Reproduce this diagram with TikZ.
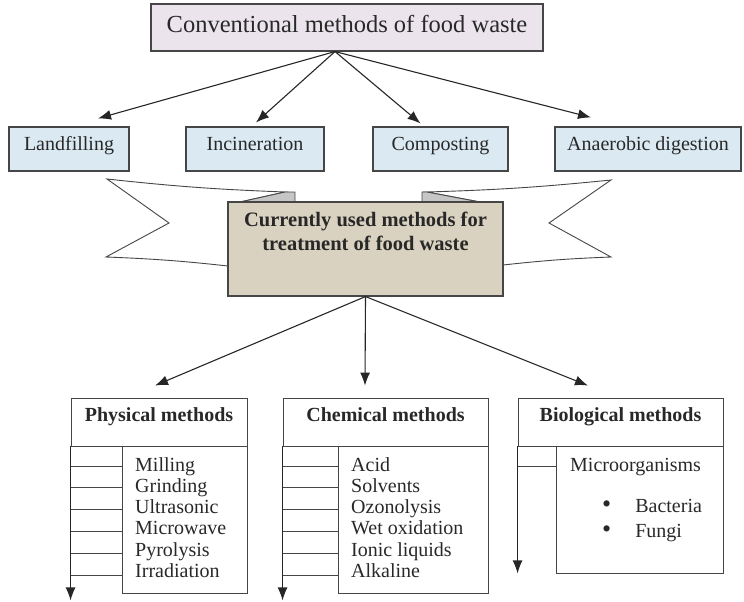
\documentclass[tikz,border=0pt]{standalone}
\usepackage{fontspec}
\setmainfont{Liberation Serif}
\usetikzlibrary{arrows.meta}
\definecolor{titlefill}{RGB}{235,228,237}
\definecolor{convfill}{RGB}{218,233,242}
\definecolor{currfill}{RGB}{218,210,192}
\definecolor{foldgray}{RGB}{198,198,198}
\definecolor{edgegray}{RGB}{70,70,70}
\definecolor{inkgray}{RGB}{40,40,40}
\tikzset{
  boxline/.style={draw=edgegray, line width=1.1pt, text=inkgray},
  titlebox/.style={boxline, fill=titlefill, minimum width=392pt, minimum height=47pt, text height=17pt, text depth=6pt, font=\fontsize{24.5}{26}\selectfont},
  convbox/.style={boxline, fill=convfill, minimum width=#1, minimum height=44pt, text height=14pt, text depth=12pt, font=\fontsize{20}{22}\selectfont},
  headbox/.style={draw=edgegray, line width=0.9pt, text=inkgray, minimum width=#1, minimum height=48pt, text height=14pt, text depth=16pt, font=\bfseries\fontsize{20}{22}\selectfont},
  itemtext/.style={anchor=base west, inner sep=0pt, text=inkgray, font=\fontsize{20}{22}\selectfont},
  arr/.style={-{Latex[length=13pt,width=10pt]}, line width=1.1pt, draw=black!85},
  tick/.style={draw=edgegray, line width=0.9pt},
  ribbon/.style={draw=edgegray, line width=0.9pt, fill=white, line join=miter},
}

\begin{document}
\begin{tikzpicture}[x=1pt,y=-1pt]
  \useasboundingbox (0,0) rectangle (744,602);

  %%%%% TOP %%%%%
  \node[titlebox] (title) at (347,27.5) {Conventional methods of food waste};

  \node[convbox=120pt] (land) at (69,149) {Landfilling};
  \node[convbox=138pt] (incin) at (255,149) {Incineration};
  \node[convbox=135pt] (comp) at (440.5,149) {Composting};
  \node[convbox=186pt] (anae) at (648,149) {Anaerobic digestion};

  \draw[arr] ([xshift=-12pt]title.south) -- ([xshift=29pt,yshift=8pt]land.north);
  \draw[arr] ([xshift=-12pt]title.south) -- ([xshift=1pt,yshift=4pt]incin.north);
  \draw[arr] ([xshift=-12pt]title.south) -- ([xshift=-20pt,yshift=3pt]comp.north);
  \draw[arr] ([xshift=-12pt]title.south) -- ([xshift=-57pt,yshift=9pt]anae.north);

  %%%%% RIBBON %%%%%
  \draw[ribbon] (228,202) -- (240,202) -- (285,192) to[bend left=2] (107,179) -- (169,223) -- (106,257) to[bend left=2] (228,266) -- cycle;
  \draw[ribbon, fill=foldgray] (240,202) -- (285,192) -- (295,192) -- (295,202) -- cycle;
  \draw[ribbon] (503,202) -- (480,202) -- (427,192) to[bend right=2] (611,180) -- (549,223) -- (611,257) to[bend right=2] (503,265) -- cycle;
  \draw[ribbon, fill=foldgray] (422,202) -- (422,192) -- (427,192) -- (480,202) -- cycle;

  \node[boxline, fill=currfill, minimum width=275pt, minimum height=94pt] (cur) at (365.5,249) {};
  \node[align=center, text=inkgray, font=\bfseries\fontsize{20.5}{24}\selectfont, anchor=north] (curtxt) at (365.5,209) {Currently used methods for\\treatment of food waste};

  %%%%% BOTTOM %%%%%
  \node[headbox=176pt] (physhead) at (159,422) {Physical methods};
  \node[headbox=205pt] (chemhead) at (385.5,422) {Chemical methods};
  \node[headbox=205pt] (biohead) at (620.5,422) {Biological methods};

  \draw[arr] (cur.south) -- ([xshift=-4pt,yshift=12pt]physhead.north);
  \draw[arr] (cur.south) -- ([xshift=-20.5pt,yshift=12pt]chemhead.north);
  \draw[arr] (cur.south) -- ([xshift=-32.5pt,yshift=12pt]biohead.north);

  \draw[draw=edgegray, line width=0.9pt] (122,446) rectangle (physhead.south east |- 0,593);
  \draw[draw=edgegray, line width=0.9pt] (338,446) rectangle (chemhead.south east |- 0,593);
  \draw[draw=edgegray, line width=0.9pt] (556,446) rectangle (biohead.south east |- 0,573);

  \draw[arr] (physhead.south west) -- ++(0,154);
  \draw[arr] (chemhead.south west) -- ++(0,154);
  \draw[arr] (biohead.south west) -- ++(0,127);

  \foreach \i in {0,...,5} {
    \draw[tick] (71,466+21.8*\i) -- (122,466+21.8*\i);
    \draw[tick] (283,466+21.8*\i) -- (338,466+21.8*\i);
  }
  \draw[tick] (518,466) -- (556,466);

  \foreach \t [count=\i from 0] in {Milling,Grinding,Ultrasonic,Microwave,Pyrolysis,Irradiation}
    \node[itemtext] (phys\i) at (135,471+21.3*\i) {\t};
  \foreach \t [count=\i from 0] in {Acid,Solvents,Ozonolysis,Wet oxidation,Ionic liquids,Alkaline}
    \node[itemtext] (chem\i) at (351,471+21.3*\i) {\t};

  \node[itemtext] (bio0) at (570,471) {Microorganisms};
  \node[itemtext] (bio1) at (602,512) {{\fontsize{26}{22}\selectfont\textbullet}\hspace{24pt}Bacteria};
  \node[itemtext] (bio2) at (602,537) {{\fontsize{26}{22}\selectfont\textbullet}\hspace{24pt}Fungi};

\end{tikzpicture}
\end{document}
